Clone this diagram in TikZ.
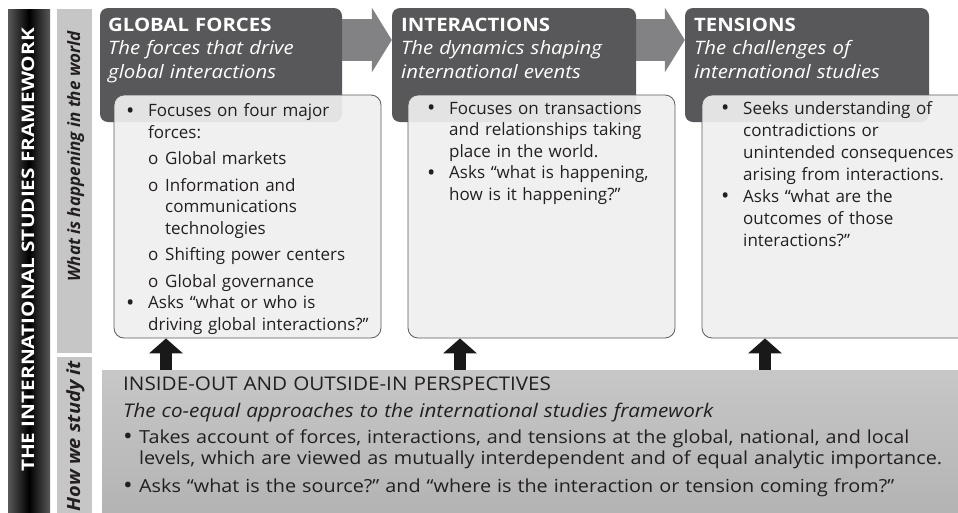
\documentclass[tikz,border=0pt]{standalone}
\usepackage{fontspec}
\setmainfont{Open Sans}
\newfontfamily\widefont[FakeStretch=1.1]{Open Sans}
\newfontfamily\titlefont[FakeStretch=1.2]{Open Sans}
\usetikzlibrary{arrows.meta,backgrounds}

\definecolor{headgray}{HTML}{58585A}
\definecolor{flowgray}{HTML}{828284}
\definecolor{boxfill}{HTML}{EFEFEF}
\definecolor{boxline}{HTML}{5A5A5A}
\definecolor{textdark}{HTML}{231F20}
\definecolor{sidegray}{HTML}{C6C6C6}

% list points
\newcommand{\dotmark}{\raisebox{-1.6pt}{\scalebox{1.3}{\textbullet}}}
\newcommand{\bfirst}{\noindent\hangindent=22pt\hangafter=1\makebox[22pt][l]{\dotmark}}
\newcommand{\bpoint}{\par\bfirst}
\newcommand{\spoint}{\par\vspace{5pt}\noindent\hangindent=39pt\hangafter=1\hspace*{22pt}\makebox[17pt][l]{o}}
\newcommand{\wpoint}{\par\noindent\hangindent=16pt\hangafter=1\makebox[16pt][l]{\dotmark}}

\begin{document}
\frenchspacing
\begin{tikzpicture}[x=1pt,y=-1pt,
    headbox/.style={fill=headgray, rounded corners=8pt, minimum height=114pt, inner sep=0pt},
    headtext/.style={anchor=base west, text=white, align=left, text width=240pt, inner sep=0pt, font=\widefont\fontsize{18.5}{23.5}\selectfont},
    bodybox/.style={draw=boxline, fill=boxfill, fill opacity=0.92, rounded corners=10pt, minimum height=243pt, inner sep=0pt, line width=0.8pt},
    bodytext/.style={anchor=base west, text=textdark, align=left, text width=262pt, inner sep=0pt, font=\fontsize{17}{21.5}\selectfont},
    sidebar/.style={fill=sidegray, minimum width=35pt, inner sep=0pt},
    sidetext/.style={anchor=base east, rotate=90, text=textdark, inner sep=0pt, font=\fontsize{17}{20}\selectfont\bfseries\itshape},
    flowarrow/.style={draw=flowgray, line width=42pt, -{Triangle[width=64pt,length=20pt]}},
    uparrow/.style={draw=black!90, line width=12pt, -{Triangle[width=33pt,length=15pt]}}]
    \useasboundingbox (0,0) rectangle (958,512);

    % left bars
    \node[minimum width=42pt, minimum height=503pt, inner sep=0pt, left color=black!65, right color=black!65, middle color=black] (framebar) at (29,260.5) {};
    \node[anchor=base, rotate=90, text=white, inner sep=0pt, font=\titlefont\fontsize{17.3}{20}\selectfont\bfseries] (frametitle) at (34,250) {THE INTERNATIONAL STUDIES FRAMEWORK};
    \node[sidebar, minimum height=344pt] (whatbar) at (74.5,181) {};
    \node[sidebar, minimum height=160pt] (howbar) at (74.5,437) {};
    \node[sidetext] (whatlabel) at (80,31) {What is happening in the world};
    \node[sidetext, font=\widefont\fontsize{18.2}{20}\selectfont\bfseries\itshape] (howlabel) at (80,361) {How we study it};

    % headers
    \node[headbox, minimum width=242pt] (forcesbox) at (221,65) {};
    \node[headbox, minimum width=244pt] (interbox) at (514,65) {};
    \node[headbox, minimum width=244pt] (tensbox) at (807,65) {};
    \node[headtext] (forcestitle) at (108,31) {\textbf{GLOBAL FORCES}\newline\textit{The forces that drive}\newline\textit{global interactions}};
    \node[headtext] (intertitle) at (401,31) {\textbf{INTERACTIONS}\newline\textit{The dynamics shaping}\newline\textit{international events}};
    \node[headtext] (tenstitle) at (694,31) {\textbf{TENSIONS}\newline\textit{The challenges of}\newline\textit{international studies}};

    \begin{scope}[on background layer]
        \draw[flowarrow] ([yshift=25pt]forcesbox.east) -- ([yshift=25pt]interbox.west);
        \draw[flowarrow] ([yshift=25pt]interbox.east) -- ([yshift=25pt]tensbox.west);
    \end{scope}

    % bodies
    \node[bodybox, minimum width=267pt] (forcesbody) at (247.5,216.5) {};
    \node[bodybox, minimum width=267pt] (interbody) at (541.5,216.5) {};
    \node[bodybox, minimum width=273pt] (tensbody) at (838.5,216.5) {};

    \node[bodytext] (forcestext) at (126,116.5) {\bfirst Focuses on four major\newline forces:
        \spoint Global markets
        \spoint Information and\newline communications\newline technologies
        \spoint Shifting power centers
        \spoint Global governance
        \bpoint Asks “what or who is\newline driving global interactions?”\par};
    \node[bodytext] (intertext) at (427,114) {\bfirst Focuses on transactions\newline and relationships taking\newline place in the world.
        \bpoint Asks “what is happening,\newline how is it happening?”\par};
    \node[bodytext, font=\fontsize{17}{22}\selectfont] (tenstext) at (721,114) {\bfirst Seeks understanding of\newline contradictions or\newline unintended consequences\newline arising from interactions.
        \bpoint Asks “what are the\newline outcomes of those\newline interactions?”\par};

    % perspectives
    \node[minimum width=873pt, minimum height=150pt, inner sep=0pt, top color=black!22, middle color=black!8, bottom color=black!30] (perspbox) at (538.5,445) {};
    \node[bodytext, text width=835pt, font=\widefont\fontsize{18}{21}\selectfont] (persptext) at (123,390) {{\fontsize{18.8}{21}\selectfont INSIDE-OUT AND OUTSIDE-IN PERSPECTIVES}\par\vspace{6pt}
        {\fontsize{18.8}{21}\selectfont\itshape The co-equal approaches to the international studies framework}\par\vspace{5pt}
        \wpoint Takes account of forces, interactions, and tensions at the global, national, and local\newline levels, which are viewed as mutually interdependent and of equal analytic importance.\par\vspace{7pt}
        \wpoint Asks “what is the source?” and “where is the interaction or tension coming from?”\par};

    \draw[uparrow] (perspbox.north -| 166,0) -- (forcesbody.south -| 166,0);
    \draw[uparrow] (perspbox.north -| 460,0) -- (interbody.south -| 460,0);
    \draw[uparrow] (perspbox.north -| 765,0) -- (tensbody.south -| 765,0);

\end{tikzpicture}
\end{document}
